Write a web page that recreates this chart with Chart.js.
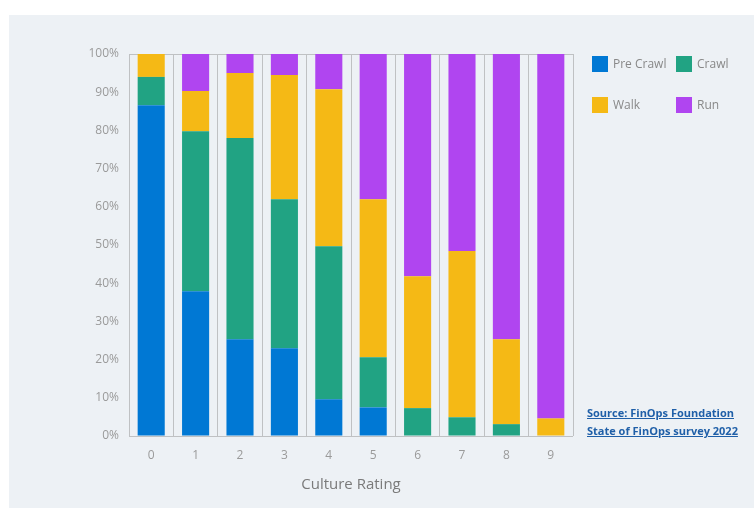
<!DOCTYPE html>
<html>
<head>
<meta charset="utf-8">
<title>Culture Rating</title>
<script src="https://cdn.jsdelivr.net/npm/chart.js@4.4.0/dist/chart.umd.min.js"></script>
<style>
  body { margin: 0; background: #fff; font-family: "Open Sans", sans-serif; }
  #panel { position: absolute; left: 9px; top: 15px; width: 745px; height: 493px; background: #edf1f5; }
  #wrap { position: absolute; left: 0; top: 0; width: 754px; height: 509px; }
  #legend { position: absolute; left: 592px; top: 56px; width: 168px; }
  .item { position: absolute; height: 16px; line-height: 16px; font-size: 12px; color: #888; white-space: nowrap; }
  .item span { display: inline-block; width: 16px; height: 16px; vertical-align: top; margin-right: 5px; }
  #source { position: absolute; left: 587px; top: 404px; font-size: 11px; font-weight: bold; line-height: 18px; color: #1f5fa8; text-decoration: underline; }
</style>
</head>
<body>
<div id="panel"></div>
<div id="wrap"><canvas id="myChart" width="754" height="509"></canvas></div>
<div id="legend"></div>
<div id="source">Source: FinOps Foundation<br>State of FinOps survey 2022</div>
<script type="text/javascript">
  // percentages per culture rating
  var ratings  = ["0", "1", "2", "3", "4", "5", "6", "7", "8", "9"];
  var preCrawl = [86.6, 37.9, 25.3, 23.0, 9.6, 7.5, 0, 0, 0, 0];
  var crawl    = [7.4, 41.9, 52.7, 39.0, 40.1, 13.1, 7.3, 4.9, 3.1, 0];
  var walk     = [6.0, 10.5, 17.0, 32.5, 41.1, 41.4, 34.5, 43.5, 22.2, 4.6];
  var run      = [0, 9.7, 5.0, 5.5, 9.2, 38.0, 58.2, 51.6, 74.7, 95.4];

  var seriesNames  = ["Pre Crawl", "Crawl", "Walk", "Run"];
  var seriesColors = ["#0078d4", "#21a383", "#f5b915", "#b045f0"];
  var seriesData   = [preCrawl, crawl, walk, run];

  var gridColor = "#bfc1c3";
  var tickColor = "#9a9a9a";

  var datasets = seriesNames.map(function(name, i) {
    return {
      label: name,
      data: seriesData[i],
      backgroundColor: seriesColors[i],
      barPercentage: 0.61,
      categoryPercentage: 1.0
    };
  });

  // legend in two columns, like the original
  var legend = document.getElementById("legend");
  var legendPos = [[0, 0], [84, 0], [0, 41], [84, 41]];
  seriesNames.forEach(function(name, i) {
    var d = document.createElement("div");
    d.className = "item";
    d.style.left = legendPos[i][0] + "px";
    d.style.top = legendPos[i][1] + "px";
    d.innerHTML = '<span style="background:' + seriesColors[i] + '"></span>' + name;
    legend.appendChild(d);
  });

  var ctx = document.getElementById("myChart").getContext("2d");
  var chart = new Chart(ctx, {
    type: "bar",
    data: { labels: ratings, datasets: datasets },
    options: {
      responsive: false,
      animation: false,
      layout: { padding: { left: 0, right: 181, top: 54, bottom: 0 } },
      plugins: { legend: { display: false }, tooltip: { enabled: false } },
      scales: {
        x: {
          stacked: true,
          offset: true,
          border: { display: false },
          grid: { offset: true, color: gridColor, lineWidth: 1, drawTicks: false },
          ticks: { color: tickColor, padding: 12, font: { family: "Open Sans", size: 12 } },
          title: {
            display: true,
            text: "Culture Rating",
            color: "#7a7a7a",
            font: { family: "Open Sans", size: 15 },
            padding: { top: 4, bottom: 15 }
          },
          afterFit: function(scale) { scale.height = 73; }
        },
        y: {
          stacked: true,
          min: 0,
          max: 100,
          border: { display: false },
          grid: {
            drawTicks: false,
            color: function(c) {
              return (c.tick && (c.tick.value === 0 || c.tick.value === 100)) ? gridColor : "rgba(0,0,0,0)";
            }
          },
          ticks: {
            stepSize: 10,
            padding: 10,
            color: tickColor,
            font: { family: "Open Sans", size: 12 },
            callback: function(v) { return v + "%"; }
          },
          afterFit: function(scale) { scale.width = 129; }
        }
      }
    }
  });
</script>
</body>
</html>
